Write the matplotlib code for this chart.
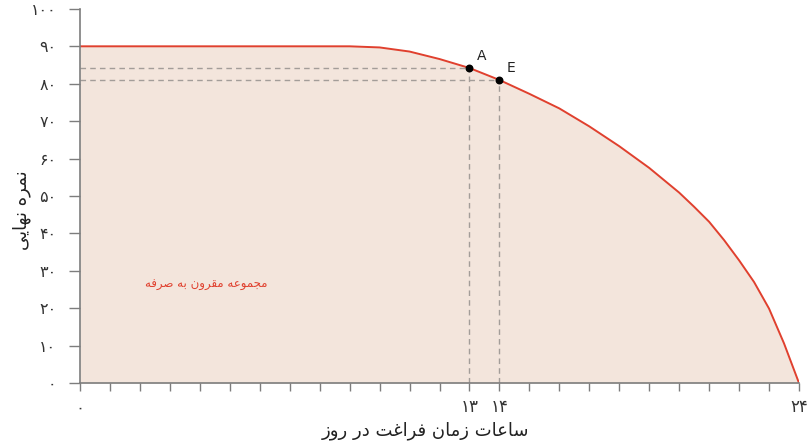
import matplotlib
matplotlib.use("Agg")
import matplotlib.pyplot as plt
from matplotlib.ticker import MultipleLocator

# values
hours = [0, 9, 10, 11, 12, 13, 14, 15, 16, 17, 18, 19, 20, 20.5, 21, 21.5, 22, 22.5, 23, 23.5, 24]
score = [90, 90, 89.7, 88.6, 86.6, 84.2, 81, 77.3, 73.4, 68.6, 63.3, 57.5, 50.9, 47.1, 43.1,
         38.2, 32.8, 27, 19.9, 10.6, 0]

point_names = ["A", "E"]
point_hours = [13, 14]
point_score = [84.2, 81]

x_ticks = [0, 13, 14, 24]
y_ticks = [0, 10, 20, 30, 40, 50, 60, 70, 80, 90, 100]

x_label = "ساعات زمان فراغت در روز"
y_label = "نمره نهایی"
area_label = "مجموعه مقرون به صرفه"

# matplotlib has no arabic shaping, so pick the presentation forms by hand
FORMS = {
    "ا": ("\uFE8D", "\uFE8E"),
    "د": ("\uFEA9", "\uFEAA"),
    "ر": ("\uFEAD", "\uFEAE"),
    "ز": ("\uFEAF", "\uFEB0"),
    "و": ("\uFEED", "\uFEEE"),
    "ب": ("\uFE8F", "\uFE90", "\uFE91", "\uFE92"),
    "ت": ("\uFE95", "\uFE96", "\uFE97", "\uFE98"),
    "ج": ("\uFE9D", "\uFE9E", "\uFE9F", "\uFEA0"),
    "س": ("\uFEB1", "\uFEB2", "\uFEB3", "\uFEB4"),
    "ص": ("\uFEB9", "\uFEBA", "\uFEBB", "\uFEBC"),
    "ع": ("\uFEC9", "\uFECA", "\uFECB", "\uFECC"),
    "غ": ("\uFECD", "\uFECE", "\uFECF", "\uFED0"),
    "ف": ("\uFED1", "\uFED2", "\uFED3", "\uFED4"),
    "ق": ("\uFED5", "\uFED6", "\uFED7", "\uFED8"),
    "م": ("\uFEE1", "\uFEE2", "\uFEE3", "\uFEE4"),
    "ن": ("\uFEE5", "\uFEE6", "\uFEE7", "\uFEE8"),
    "ه": ("\uFEE9", "\uFEEA", "\uFEEB", "\uFEEC"),
    "ی": ("\uFEEF", "\uFEF0", "\uFEF3", "\uFEF4"),
}


def shape(text):
    out = []
    for i, ch in enumerate(text):
        if ch not in FORMS:
            out.append(ch)
            continue
        prev = text[i - 1] if i > 0 else ""
        nxt = text[i + 1] if i + 1 < len(text) else ""
        f = FORMS[ch]
        join_prev = prev in FORMS and len(FORMS[prev]) == 4
        join_next = nxt in FORMS and len(f) == 4
        if join_prev and join_next:
            out.append(f[3])
        elif join_prev:
            out.append(f[1])
        elif join_next:
            out.append(f[2])
        else:
            out.append(f[0])
    return "".join(reversed(out))


def fa_num(n):
    return str(n).translate(str.maketrans("0123456789", "۰۱۲۳۴۵۶۷۸۹"))


plt.rcParams["font.family"] = ["DejaVu Sans"]

fill_col = "#f3e5dc"
red = "#e0402e"
axis_col = "#7d7d7d"
dash_col = "#a39d99"

fig = plt.figure(figsize=(8.1, 4.45), dpi=100)
ax = fig.add_axes([0.0988, 0.1393, 0.8876, 0.8407])

ax.fill_between(hours, score, 0, color=fill_col, lw=0)
ax.plot(hours, score, color=red, lw=1.4, solid_joinstyle="round")

for h, s in zip(point_hours, point_score):
    ax.plot([0, h], [s, s], color=dash_col, lw=1, ls=(0, (4, 3)))
    ax.plot([h, h], [0, s], color=dash_col, lw=1, ls=(0, (4, 3)))
ax.scatter(point_hours, point_score, s=22, color="black", zorder=5)
for name, h, s in zip(point_names, point_hours, point_score):
    ax.annotate(name, (h, s), xytext=(5, 6), textcoords="offset points",
                fontsize=10, color="#222222")

ax.text(4.2, 26.2, shape(area_label), color=red, fontsize=8.5,
        ha="center", va="center")

ax.set_xlim(0, 24)
ax.set_ylim(0, 100)
for side in ["top", "right"]:
    ax.spines[side].set_visible(False)
for side in ["left", "bottom"]:
    ax.spines[side].set_color(axis_col)
    ax.spines[side].set_linewidth(1.2)

ax.set_xticks(x_ticks, [fa_num(v) for v in x_ticks])
ax.xaxis.set_minor_locator(MultipleLocator(1))
ax.set_yticks(y_ticks, [fa_num(v) for v in y_ticks])
ax.tick_params(axis="x", which="both", direction="out", length=6, width=1,
               color=axis_col, pad=5, labelsize=12, labelcolor="#333333")
ax.tick_params(axis="y", which="both", direction="out", length=8, width=1,
               color=axis_col, pad=9, labelsize=11.5, labelcolor="#333333")

ax.set_xlabel(shape(x_label), fontsize=13, color="#222222")
ax.xaxis.set_label_coords(0.481, -0.103)
ax.set_ylabel(shape(y_label), fontsize=13, color="#222222")
ax.yaxis.set_label_coords(-0.068, 0.463)

fig.savefig("out.png", dpi=100)
